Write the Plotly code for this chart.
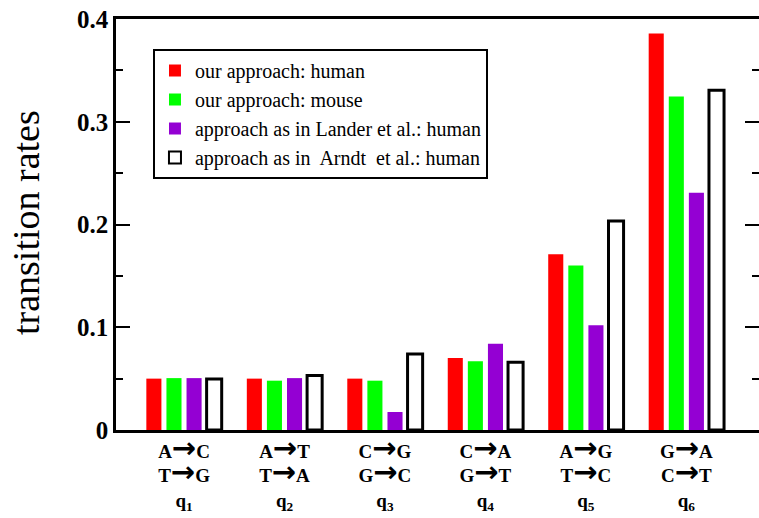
import plotly.graph_objects as go

ARROW = "<span style=\"font-family:'DejaVu Sans';font-size:29px\">→</span>"
pairs = [("A", "C", "T", "G"), ("A", "T", "T", "A"), ("C", "G", "G", "C"),
         ("C", "A", "G", "T"), ("A", "G", "T", "C"), ("G", "A", "C", "T")]
categories = [f"{a}{ARROW}{b}<br>{c}{ARROW}{d}<br>q<sub>{i + 1}</sub>"
              for i, (a, b, c, d) in enumerate(pairs)]

ours_human = [0.050, 0.050, 0.050, 0.070, 0.171, 0.386]
ours_mouse = [0.0505, 0.048, 0.048, 0.067, 0.160, 0.3245]
lander_human = [0.0505, 0.0505, 0.0175, 0.084, 0.102, 0.231]
arndt_human = [0.0497, 0.053, 0.074, 0.066, 0.2035, 0.3307]

names = [
    "our approach: human",
    "our approach: mouse",
    "approach as in Lander et al.: human",
    "approach as in&nbsp; Arndt&nbsp; et al.: human",
]
y_ticks = [0, 0.1, 0.2, 0.3, 0.4]
y_minor = [0.05, 0.15, 0.25, 0.35]

FONT = "Liberation Serif"

fig = go.Figure()
fig.add_trace(go.Bar(x=categories, y=ours_human, name=names[0],
                     marker=dict(color="#ff0000", line=dict(width=0))))
fig.add_trace(go.Bar(x=categories, y=ours_mouse, name=names[1],
                     marker=dict(color="#00ff00", line=dict(width=0))))
fig.add_trace(go.Bar(x=categories, y=lander_human, name=names[2],
                     marker=dict(color="#9400d3", line=dict(width=0))))
fig.add_trace(go.Bar(x=categories, y=arndt_human, name=names[3],
                     marker=dict(color="white", line=dict(width=3, color="black"))))
# invisible helper so the right-hand tick axis is drawn
fig.add_trace(go.Scatter(x=categories, y=ours_human, yaxis="y2", mode="markers",
                         marker=dict(opacity=0), showlegend=False, hoverinfo="skip"))

tick_style = dict(ticks="inside", ticklen=14, tickwidth=1.5, tickcolor="black",
                  minor=dict(tickvals=y_minor, ticks="inside", ticklen=7,
                             tickwidth=1.5, tickcolor="black"))

fig.update_layout(
    width=759, height=518,
    margin=dict(l=116, r=0, t=19, b=88, autoexpand=False),
    paper_bgcolor="white", plot_bgcolor="white",
    barmode="group", bargap=0.2, bargroupgap=0.25,
    font=dict(family=FONT, color="black"),
    showlegend=True,
    legend=dict(
        x=0.0575, y=0.927, xanchor="left", yanchor="top",
        bordercolor="black", borderwidth=2, bgcolor="white",
        font=dict(family=FONT, size=20, color="black"),
        tracegroupgap=0, itemsizing="constant",
    ),
    xaxis=dict(
        type="category", range=[-0.677, 5.723], automargin=False,
        showline=True, linewidth=2.5, linecolor="black", mirror=True,
        ticks="", showgrid=False, zeroline=False, ticklabelstandoff=2,
        tickfont=dict(family=FONT, size=19, color="black", weight="bold"),
    ),
    yaxis=dict(
        range=[0, 0.4], tickvals=y_ticks, ticktext=[f"{v:g}" for v in y_ticks],
        automargin=False,
        showline=True, linewidth=2.5, linecolor="black",
        showgrid=False, zeroline=False,
        tickfont=dict(family=FONT, size=25, color="black", weight="bold"),
        **tick_style,
    ),
    yaxis2=dict(
        overlaying="y", side="right", range=[0, 0.4], tickvals=y_ticks,
        showticklabels=False, showline=False, automargin=False,
        showgrid=False, zeroline=False,
        **tick_style,
    ),
    annotations=[dict(
        text="transition rates", textangle=-90,
        xref="paper", yref="paper", x=-0.140, y=0.506,
        xanchor="center", yanchor="middle", showarrow=False,
        font=dict(family=FONT, size=38, color="black"),
    )],
)

fig.write_html("out.html")
